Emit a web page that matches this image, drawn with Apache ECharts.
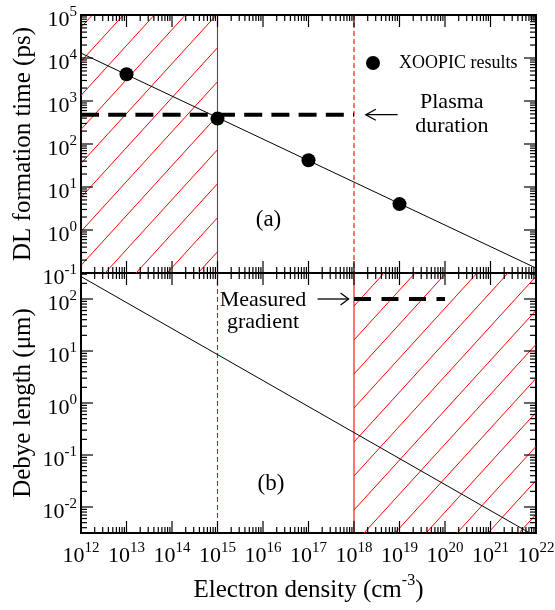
<!DOCTYPE html>
<html>
<head>
<meta charset="utf-8">
<script src="https://cdn.jsdelivr.net/npm/echarts@6/dist/echarts.min.js"></script>
<style>
  html, body { margin: 0; padding: 0; background: #fff; }
  #chart { width: 555px; height: 610px; }
</style>
</head>
<body>
<div id="chart"></div>
<script>
// ---- data ----
const densityRange = [1e12, 1e22];                              // cm^-3
const timeRange = [1e-1, 1e5];                                  // ps
const debyeRange = [Math.pow(10, -2.5), Math.pow(10, 2.5)];     // um

// XOOPIC simulation results
const xoopicDensity = [1e13, 1e15, 1e17, 1e19];
const xoopicTime = [4200, 390, 42, 4.0];

// scaling lines (end points on the log-log plane)
const scalingDensity = [1e12, 1e22];
const scalingTime = [1.3e4, 0.13];
const debyeLength = [270, 2.7e-3];

// plasma duration and measured gradient levels
const plasmaDensity = [1e12, 1e18];
const plasmaDuration = [480, 480];
const gradientDensity = [1e18, 1e20];
const measuredGradient = [100, 100];

// excluded density ranges and guide lines (1 = dashed)
const hatchTop = [1e12, 1e15];
const hatchBottom = [1e18, 1e22];
const guidesTop = [[1e15, 0], [1e18, 1]];
const guidesBottom = [[1e18, 0], [1e15, 1]];

// tick exponents
const densityExponents = [12, 13, 14, 15, 16, 17, 18, 19, 20, 21, 22];
const timeExponents = [-1, 0, 1, 2, 3, 4, 5];
const debyeExponents = [-3, -2, -1, 0, 1, 2];
const debyeLabelExponents = [-2, -1, 0, 1, 2];
const minorMultipliers = [2, 3, 4, 5, 6, 7, 8, 9];

// annotation anchors (data coordinates)
const plasmaNoteAt = [1.41e20, 480];
const plasmaArrow = [[9.1e18, 480], [1.82e18, 480]];
const gradientNoteAt = [1.0e16, 59];
const gradientArrow = [[1.58e17, 100], [7.6e17, 100]];
const tagA = [1.32e16, 1.7];
const tagB = [1.5e16, 0.028];

const FONT = 'Liberation Serif';
const RED = '#ff0000';
const zip = (a, b) => a.map((v, i) => [v, b[i]]);

// ---- tick helpers ----
function tickItems(exps, range, axis, other) {
  const out = [];
  exps.forEach(e => {
    const d = Math.pow(10, e);
    if (d >= range[0] * 0.999 && d <= range[1] * 1.001)
      out.push(axis === 'x' ? [d, other, 0] : [other, d, 2]);
    minorMultipliers.forEach(m => {
      const v = m * d;
      if (v > range[0] && v < range[1])
        out.push(axis === 'x' ? [v, other, 1] : [other, v, 3]);
    });
  });
  return out;
}

function renderTicks(params, api) {
  const cs = params.coordSys;
  const kind = api.value(2);
  const p = api.coord([api.value(0), api.value(1)]);
  const st = { stroke: '#000', lineWidth: 1.2 };
  const len = (kind === 0 || kind === 2) ? 12 : 6;
  const ch = [];
  if (kind < 2) {
    const yb = cs.y + cs.height, yt = cs.y;
    ch.push({ type: 'line', shape: { x1: p[0], y1: yb, x2: p[0], y2: yb - len }, style: st });
    ch.push({ type: 'line', shape: { x1: p[0], y1: yt, x2: p[0], y2: yt + len }, style: st });
  } else {
    const xl = cs.x, xr = cs.x + cs.width;
    ch.push({ type: 'line', shape: { x1: xl, y1: p[1], x2: xl + len, y2: p[1] }, style: st });
    ch.push({ type: 'line', shape: { x1: xr, y1: p[1], x2: xr - len, y2: p[1] }, style: st });
  }
  return { type: 'group', children: ch };
}

// vertical red guide spanning the whole panel
function renderGuide(params, api) {
  const cs = params.coordSys;
  const p = api.coord([api.value(0), 1]);
  const dashed = api.value(1) === 1;
  return { type: 'line', shape: { x1: p[0], y1: cs.y, x2: p[0], y2: cs.y + cs.height },
    style: { stroke: RED, lineWidth: 1.1, lineDash: dashed ? [5, 3] : null } };
}

const powRich = {
  b: { fontFamily: FONT, fontSize: 22, lineHeight: 31, fill: '#000' },
  s: { fontFamily: FONT, fontSize: 15, lineHeight: 15, verticalAlign: 'top', fill: '#000' }
};

function renderLabels(params, api) {
  const cs = params.coordSys;
  const axis = api.value(3);
  const exp = api.value(2);
  const p = api.coord([api.value(0), api.value(1)]);
  const text = '{b|10}{s|' + exp + '}';
  if (axis === 0) {
    return { type: 'text', x: p[0], y: cs.y + cs.height + 23.5,
      style: { text, rich: powRich, align: 'center', verticalAlign: 'middle', fill: '#000', fontFamily: FONT } };
  }
  return { type: 'text', x: cs.x - 4, y: p[1] + 5.5,
    style: { text, rich: powRich, align: 'right', verticalAlign: 'middle', fill: '#000', fontFamily: FONT } };
}

// ---- hatch pattern ----
function hatchPattern(w, h, phase) {
  const c = document.createElement('canvas');
  c.width = w; c.height = h;
  const ctx = c.getContext('2d');
  ctx.strokeStyle = RED;
  ctx.lineWidth = 1;
  for (let k = -1; k <= 1; k++) {
    ctx.beginPath();
    ctx.moveTo(phase - w + k * w, h);
    ctx.lineTo(phase + k * w, 0);
    ctx.stroke();
  }
  return c;
}
const hatch = { image: hatchPattern(31, 34, 13), repeat: 'repeat' };

const axisOff = {
  axisLine: { show: false }, axisTick: { show: false },
  axisLabel: { show: false }, splitLine: { show: false }
};

const chart = echarts.init(document.getElementById('chart'), null, { renderer: 'canvas' });

const option = {
  animation: false,
  backgroundColor: '#fff',
  grid: [
    { left: 81, top: 15, width: 455, height: 258, show: true, borderColor: '#000', borderWidth: 2, backgroundColor: 'transparent' },
    { left: 81, top: 273, width: 455, height: 260, show: true, borderColor: '#000', borderWidth: 2, backgroundColor: 'transparent' }
  ],
  xAxis: [
    Object.assign({ type: 'log', logBase: 10, gridIndex: 0, min: densityRange[0], max: densityRange[1] }, axisOff),
    Object.assign({ type: 'log', logBase: 10, gridIndex: 1, min: densityRange[0], max: densityRange[1],
      name: 'Electron density (cm{s|-3})', nameLocation: 'middle', nameGap: 40,
      nameTextStyle: { fontFamily: FONT, fontSize: 25, color: '#000', lineHeight: 34,
        rich: { s: { fontFamily: FONT, fontSize: 16, lineHeight: 16, verticalAlign: 'top', color: '#000' } } } }, axisOff)
  ],
  yAxis: [
    Object.assign({ type: 'log', logBase: 10, gridIndex: 0, min: timeRange[0], max: timeRange[1],
      name: 'DL formation time (ps)', nameLocation: 'middle', nameGap: 45,
      nameTextStyle: { fontFamily: FONT, fontSize: 25, color: '#000' } }, axisOff),
    Object.assign({ type: 'log', logBase: 10, gridIndex: 1, min: debyeRange[0], max: debyeRange[1],
      name: 'Debye length (\u03bcm)', nameLocation: 'middle', nameGap: 45,
      nameTextStyle: { fontFamily: FONT, fontSize: 25, color: '#000' } }, axisOff)
  ],
  legend: {
    data: ['XOOPIC results'], left: 361, top: 49, itemWidth: 14, itemHeight: 14, icon: 'circle',
    selectedMode: false,
    textStyle: { fontFamily: FONT, fontSize: 18, color: '#000', padding: [0, 0, 0, 14] }
  },
  series: [
    {
      name: 'scaling', type: 'line', xAxisIndex: 0, yAxisIndex: 0, z: 3,
      data: zip(scalingDensity, scalingTime), symbol: 'none',
      lineStyle: { color: '#000', width: 1 }, silent: true,
      markArea: { silent: true,
        itemStyle: { color: hatch, opacity: 1, borderWidth: 0 },
        data: [[{ xAxis: hatchTop[0], yAxis: timeRange[0] }, { xAxis: hatchTop[1], yAxis: timeRange[1] }]] }
    },
    {
      name: 'guidesTop', type: 'custom', xAxisIndex: 0, yAxisIndex: 0, z: 3, silent: true,
      renderItem: renderGuide, data: guidesTop
    },
    {
      name: 'plasma', type: 'line', xAxisIndex: 0, yAxisIndex: 0, z: 4,
      data: zip(plasmaDensity, plasmaDuration), symbol: 'none', silent: true,
      lineStyle: { color: '#000', width: 4, type: [18, 9.2], cap: 'butt' }
    },
    {
      name: 'XOOPIC results', type: 'scatter', xAxisIndex: 0, yAxisIndex: 0, z: 6,
      data: zip(xoopicDensity, xoopicTime), symbol: 'circle', symbolSize: 14,
      itemStyle: { color: '#000', opacity: 1 }, silent: true
    },
    {
      name: 'debye', type: 'line', xAxisIndex: 1, yAxisIndex: 1, z: 3,
      data: zip(scalingDensity, debyeLength), symbol: 'none',
      lineStyle: { color: '#000', width: 1 }, silent: true,
      markArea: { silent: true,
        itemStyle: { color: hatch, opacity: 1, borderWidth: 0 },
        data: [[{ xAxis: hatchBottom[0], yAxis: debyeRange[0] }, { xAxis: hatchBottom[1], yAxis: debyeRange[1] }]] }
    },
    {
      name: 'guidesBottom', type: 'custom', xAxisIndex: 1, yAxisIndex: 1, z: 3, silent: true,
      renderItem: renderGuide, data: guidesBottom
    },
    {
      name: 'gradient', type: 'line', xAxisIndex: 1, yAxisIndex: 1, z: 4,
      data: zip(gradientDensity, measuredGradient), symbol: 'none', silent: true,
      lineStyle: { color: '#000', width: 4, type: [17, 10.5], cap: 'butt' }
    },
    {
      name: 'ticksTop', type: 'custom', xAxisIndex: 0, yAxisIndex: 0, z: 8, silent: true,
      renderItem: renderTicks,
      data: tickItems(densityExponents, densityRange, 'x', 1).concat(tickItems(timeExponents, timeRange, 'y', 1e12))
    },
    {
      name: 'ticksBottom', type: 'custom', xAxisIndex: 1, yAxisIndex: 1, z: 8, silent: true,
      renderItem: renderTicks,
      data: tickItems(densityExponents, densityRange, 'x', 1).concat(tickItems(debyeExponents, debyeRange, 'y', 1e12))
    },
    {
      name: 'labelsTop', type: 'custom', xAxisIndex: 0, yAxisIndex: 0, z: 8, silent: true,
      renderItem: renderLabels,
      data: timeExponents.map(e => [1e12, Math.pow(10, e), e, 1])
    },
    {
      name: 'labelsBottom', type: 'custom', xAxisIndex: 1, yAxisIndex: 1, z: 8, silent: true,
      renderItem: renderLabels,
      data: debyeLabelExponents.map(e => [1e12, Math.pow(10, e), e, 1])
        .concat(densityExponents.map(e => [Math.pow(10, e), 1, e, 0]))
    }
  ]
};
chart.setOption(option);

// ---- annotations placed from data coordinates ----
const toPx = (g, pt) => chart.convertToPixel({ xAxisIndex: g, yAxisIndex: g }, pt);

function arrow(g, seg, back, half) {
  const a = toPx(g, seg[0]), b = toPx(g, seg[1]);
  const dir = Math.sign(b[0] - a[0]);
  return {
    type: 'group', silent: true, children: [
      { type: 'line', shape: { x1: a[0], y1: a[1], x2: b[0], y2: b[1] }, style: { stroke: '#000', lineWidth: 1.3 } },
      { type: 'polyline', shape: { points: [[b[0] - dir * back, b[1] - half], [b[0], b[1]], [b[0] - dir * back, b[1] + half]] },
        style: { stroke: '#000', lineWidth: 1.3, fill: null } }
    ]
  };
}

function note(g, at, text, size, lh) {
  const p = toPx(g, at);
  return { type: 'text', x: p[0], y: p[1], silent: true, z: 10,
    style: { text, fontFamily: FONT, fontSize: size, lineHeight: lh, fill: '#000', align: 'center', verticalAlign: 'middle' } };
}

chart.setOption({
  graphic: [
    note(0, plasmaNoteAt, 'Plasma\nduration', 22, 24),
    arrow(0, plasmaArrow, 10, 5.5),
    note(1, gradientNoteAt, 'Measured\ngradient', 22, 22),
    arrow(1, gradientArrow, 8, 6),
    note(0, tagA, '(a)', 23, 26),
    note(1, tagB, '(b)', 23, 26)
  ]
});
</script>
</body>
</html>
